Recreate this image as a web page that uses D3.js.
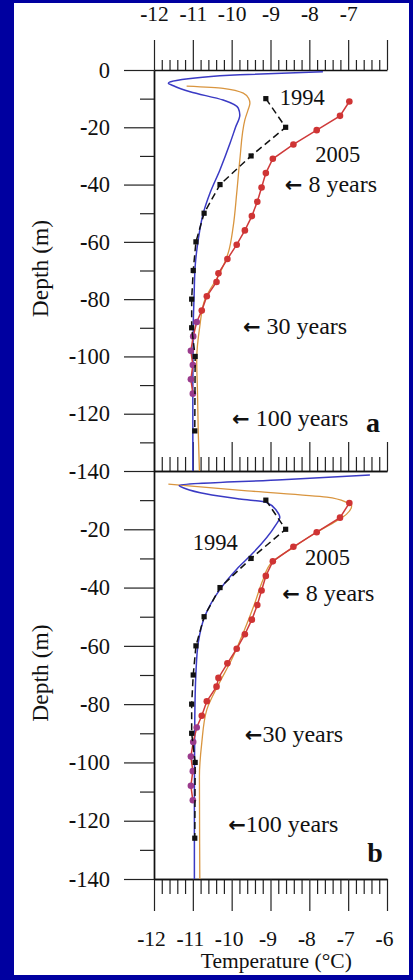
<!DOCTYPE html>
<html>
<head>
<meta charset="utf-8">
<script src="https://cdn.jsdelivr.net/npm/d3@7"></script>
<style>
  html, body { margin: 0; padding: 0; background: #0000a0; }
  svg { display: block; }
  text { font-family: "Liberation Serif", "Times New Roman", serif; fill: #111; }
</style>
</head>
<body>
<svg id="chart" width="413" height="980"></svg>
<script>
// Temperature axis ticks (°C) and depth axis ticks (m)
const tempTicks = [-12, -11, -10, -9, -8, -7, -6];
const depthTicksA = [0, -20, -40, -60, -80, -100, -120, -140];
const depthTicksB = [-20, -40, -60, -80, -100, -120, -140];
const depthMinor = [-10, -30, -50, -70, -90, -110, -130];

// Measured profile, 1994 (same in both panels)
const depth1994 = [-10, -20, -30, -40, -50, -60, -70, -80, -90, -100, -126];
const temp1994 = [-9.12, -8.61, -9.50, -10.30, -10.71, -10.92, -10.99, -11.03, -11.03, -10.94, -10.95];

// Measured profile, 2005 (same in both panels)
const depth2005 = [-11, -16, -21, -26, -31, -36, -41, -46, -51, -56, -61, -66, -71, -74, -79, -84, -88, -93, -98, -103, -108, -113];
const temp2005 = [-6.97, -7.21, -7.81, -8.41, -8.94, -9.12, -9.23, -9.34, -9.48, -9.66, -9.87, -10.11, -10.34, -10.39, -10.64, -10.77, -10.90, -10.99, -11.05, -11.00, -11.05, -11.00];

// Panel a model curves
const blueADepth = [-0.6, -1.7, -3.7, -4.6, -5.5, -7.6, -10.5, -13.3, -15.7, -20, -25.5, -34.8, -43, -49.9, -59.2, -68.5, -80, -89.4, -110, -140];
const blueATemp = [-7.65, -9.79, -11.42, -11.63, -11.50, -11.07, -10.22, -9.83, -9.79, -9.90, -10.04, -10.30, -10.56, -10.73, -10.86, -10.94, -10.97, -10.99, -11.00, -11.00];
const orangeADepth = [-5.6, -6.4, -8.1, -10, -11.6, -14, -17.4, -31.4, -43, -54.6, -63.9, -70.8, -80.1, -89.4, -101, -112.6, -126.6, -140];
const orangeATemp = [-11.16, -10.22, -9.70, -9.56, -9.53, -9.58, -9.66, -9.79, -9.87, -9.96, -10.09, -10.30, -10.69, -10.82, -10.90, -10.88, -10.86, -10.83];

// Panel b model curves
const blueBDepth = [-1.4, -3, -5, -6, -7.9, -9.6, -10.8, -13.7, -15.9, -18.8, -28, -33.7, -40.6, -49.8, -58.9, -69.2, -85, -110, -140];
const blueBTemp = [-6.44, -8.70, -11.35, -11.20, -10.64, -9.79, -9.10, -8.84, -8.76, -8.88, -9.44, -9.87, -10.30, -10.69, -10.86, -10.92, -10.95, -10.96, -10.96];
const orangeBDepth = [-4.5, -6.8, -9, -10.8, -11.9, -14.8, -17.1, -21.7, -26.2, -31.4, -37.2, -45.2, -55.5, -64.7, -73.3, -81.9, -93.3, -104.8, -140];
const orangeBTemp = [-11.63, -9.60, -7.55, -7.04, -6.91, -7.04, -7.30, -7.90, -8.41, -8.97, -9.19, -9.40, -9.70, -10.00, -10.34, -10.64, -10.77, -10.83, -10.82];

const zip = (ds, ts) => ds.map((d, i) => ({ depth: d, temp: ts[i] }));

const svg = d3.select("#chart");
svg.append("rect").attr("x", 14).attr("y", 3).attr("width", 395).attr("height", 972).attr("fill", "#fff");

const x = d3.scaleLinear().domain([-12, -6]).range([154, 387]);
const yA = d3.scaleLinear().domain([0, -140]).range([70, 471]);
const yB = d3.scaleLinear().domain([0, -140]).range([471, 879]);

const minorTemps = d3.range(-12, -5.99, 0.2).filter(v => Math.abs(v - Math.round(v)) > 0.01);
const fmt = d => String(d);

// bold hyphen in tick labels
function boldMinus(sel) {
  sel.selectAll(".tick text").each(function () {
    const t = d3.select(this);
    const s = t.text();
    if (s.startsWith("-")) {
      t.text(null);
      t.append("tspan").attr("font-weight", "bold").text("-");
      t.append("tspan").text(s.slice(1));
    }
  });
}
function styleAxis(g, size = 21.5) {
  g.selectAll("path.domain").attr("stroke", "#111").attr("stroke-width", 1.4);
  g.selectAll(".tick line").attr("stroke", "#222").attr("stroke-width", 1.2);
  g.selectAll(".tick text").attr("font-size", size).attr("fill", "#111")
    .attr("font-family", '"Liberation Serif", "Times New Roman", serif');
  boldMinus(g);
}

// top temperature axis
const topMinor = svg.append("g").attr("transform", `translate(0,${yA(0)})`)
  .call(d3.axisTop(x).tickValues(minorTemps).tickSize(10).tickSizeOuter(0).tickFormat(""));
topMinor.select("path.domain").remove();
const topAxis = svg.append("g").attr("transform", `translate(0,${yA(0)})`)
  .call(d3.axisTop(x).tickValues(tempTicks).tickSize(30).tickSizeOuter(0).tickPadding(19)
    .tickFormat(d => d === -6 ? "" : fmt(d)));
styleAxis(topMinor); styleAxis(topAxis);

// shared axis between panels
const midMinor = svg.append("g").attr("transform", `translate(0,${yA(-140)})`)
  .call(d3.axisTop(x).tickValues(minorTemps).tickSize(14).tickSizeOuter(0).tickFormat(""));
const midAxis = svg.append("g").attr("transform", `translate(0,${yA(-140)})`)
  .call(d3.axisTop(x).tickValues(tempTicks).tickSize(29).tickSizeOuter(0).tickFormat(""));
styleAxis(midMinor); styleAxis(midAxis);

// bottom temperature axis
const botMinor = svg.append("g").attr("transform", `translate(0,${yB(-140)})`)
  .call(d3.axisBottom(x).tickValues(minorTemps).tickSize(15).tickSizeOuter(0).tickFormat(""));
const botAxis = svg.append("g").attr("transform", `translate(0,${yB(-140)})`)
  .call(d3.axisBottom(x).tickValues(tempTicks).tickSize(32).tickSizeOuter(0).tickPadding(20).tickFormat(fmt));
styleAxis(botMinor); styleAxis(botAxis);
botAxis.selectAll(".tick text").attr("dx", -3);

// depth axes
[[yA, depthTicksA], [yB, depthTicksB]].forEach(([y, ticks]) => {
  const gm = svg.append("g").attr("transform", "translate(154,0)")
    .call(d3.axisLeft(y).tickValues(depthMinor).tickSize(14).tickSizeOuter(0).tickFormat(""));
  const g = svg.append("g").attr("transform", "translate(154,0)")
    .call(d3.axisLeft(y).tickValues(ticks).tickSize(30).tickSizeOuter(0).tickPadding(14).tickFormat(fmt));
  styleAxis(gm, 22.5); styleAxis(g, 22.5);
});

// axis titles
[[yA], [yB]].forEach(([y]) => {
  svg.append("text")
    .attr("transform", `translate(48,${y(-70) - 2}) rotate(-90)`)
    .attr("text-anchor", "middle").attr("font-size", 23.5).text("Depth (m)");
});
svg.append("text").attr("x", x(-8.85)).attr("y", 968)
  .attr("text-anchor", "middle").attr("font-size", 21.5).text("Temperature (°C)");

// profiles
function drawPanel(y, blue, orange) {
  const g = svg.append("g");
  const smooth = d3.line().x(d => x(d.temp)).y(d => y(d.depth)).curve(d3.curveMonotoneY);
  const straight = d3.line().x(d => x(d.temp)).y(d => y(d.depth));

  g.append("path").datum(orange).attr("d", smooth)
    .attr("fill", "none").attr("stroke", "#d9953f").attr("stroke-width", 1.3);
  g.append("path").datum(blue).attr("d", smooth)
    .attr("fill", "none").attr("stroke", "#3a3ac4").attr("stroke-width", 1.5);

  const p2005 = zip(depth2005, temp2005);
  g.append("path").datum(p2005).attr("d", straight)
    .attr("fill", "none").attr("stroke", "#cf3a3a").attr("stroke-width", 1.5);
  g.selectAll("circle.p2005").data(p2005).join("circle").attr("class", "p2005")
    .attr("cx", d => x(d.temp)).attr("cy", d => y(d.depth)).attr("r", 3.3)
    .attr("fill", d => d.depth < -87 ? "#9a3a8c" : "#cf3434");

  const p1994 = zip(depth1994, temp1994);
  g.append("path").datum(p1994).attr("d", straight)
    .attr("fill", "none").attr("stroke", "#111").attr("stroke-width", 1.5)
    .attr("stroke-dasharray", "7,4");
  g.selectAll("rect.p1994").data(p1994).join("rect").attr("class", "p1994")
    .attr("x", d => x(d.temp) - 2.6).attr("y", d => y(d.depth) - 2.6)
    .attr("width", 5.2).attr("height", 5.2).attr("fill", "#111");
  return g;
}
drawPanel(yA, zip(blueADepth, blueATemp), zip(orangeADepth, orangeATemp));
drawPanel(yB, zip(blueBDepth, blueBTemp), zip(orangeBDepth, orangeBTemp));

// annotations, placed in data units; a leading arrow gets its own glyph
function label(y, t, d, txt, opts = {}) {
  const el = svg.append("text").attr("x", x(t)).attr("y", y(d))
    .attr("font-size", opts.size || 24)
    .attr("font-weight", opts.bold ? "bold" : null)
    .attr("text-anchor", opts.anchor || "start")
    .attr("fill", opts.color || "#111");
  if (txt.startsWith("←")) {
    el.append("tspan").attr("font-family", '"DejaVu Sans", sans-serif')
      .attr("font-size", 21).attr("font-weight", "bold").text("←");
    el.append("tspan").text(txt.slice(1));
  } else {
    el.text(txt);
  }
}
label(yA, -8.76, -12.2, "1994", { size: 22.5 });
label(yA, -7.85, -32, "2005", { size: 22.5, color: "#c73a3a" });
label(yA, -8.63, -42.5, "← 8 years");
label(yA, -9.71, -92, "← 30 years");
label(yA, -9.99, -124.4, "← 100 years");
label(yA, -6.36, -126.5, "a", { size: 28, bold: true, anchor: "middle" });

label(yB, -11.0, -27.2, "1994", { size: 22.5 });
label(yB, -8.11, -32.3, "2005", { size: 22.5, color: "#c73a3a" });
label(yB, -8.70, -44.7, "← 8 years");
label(yB, -9.66, -92.9, "←30 years");
label(yB, -10.09, -123.8, "←100 years");
label(yB, -6.31, -134, "b", { size: 28, bold: true, anchor: "middle" });
</script>
</body>
</html>
